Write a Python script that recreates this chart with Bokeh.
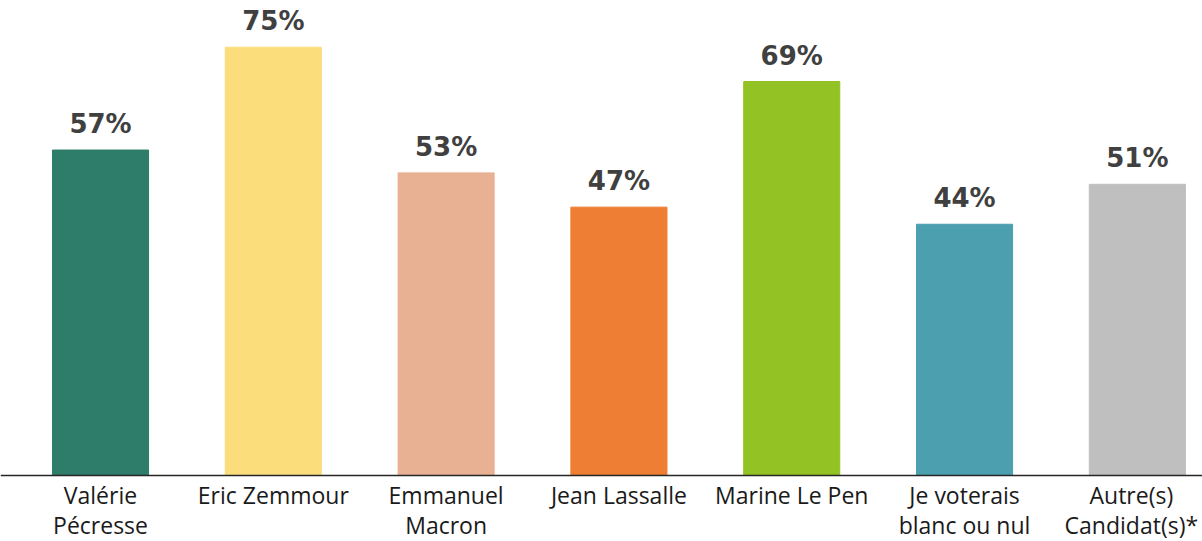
from bokeh.plotting import figure
from bokeh.models import ColumnDataSource, Range1d, Span
from bokeh.core.properties import value
from bokeh.embed import file_html
from bokeh.resources import INLINE

categories = ["Valérie\nPécresse", "Eric Zemmour", "Emmanuel\nMacron", "Jean Lassalle",
              "Marine Le Pen", "Je voterais\nblanc ou nul", "Autre(s)\nCandidat(s)*"]
values = [57, 75, 53, 47, 69, 44, 51]
colors = ["#2E7C6A", "#FCDD7C", "#E8B193", "#ED7E33", "#93C224", "#4B9FAE", "#BFBFBF"]

idx = list(range(len(categories)))
labels = [f"{v}%" for v in values]
src = ColumnDataSource(dict(x=idx, top=values, color=colors, label=labels))

W, H = 1202, 541
p = figure(width=W, height=H, output_backend="svg", toolbar_location=None,
           x_range=Range1d(-0.5787, 6.377), y_range=Range1d(-11.56, 83.19),
           min_border_left=0, min_border_right=0, min_border_top=0, min_border_bottom=0)
p.outline_line_color = None
p.grid.visible = False
p.xaxis.visible = False
p.yaxis.visible = False

p.vbar(x="x", top="top", width=0.556, color="color", source=src)
p.add_layout(Span(location=0, dimension="width", line_color="#262626", line_width=1.5))

p.text(x="x", y="top", text="label", source=src, text_align="center",
       text_baseline="alphabetic", y_offset=-26, text_font=value("DejaVu Sans"),
       text_font_style="bold", text_font_size="26px", text_color="#404040")

cat_style = dict(text_align="center", text_baseline="top", y_offset=4,
                 text_font=value("Open Sans"), text_font_size="23px",
                 text_color="#1a1a1a", text_line_height=0.93)
# categories, the last one nudged left so that it stays inside the chart
p.text(x=idx[:-1], y=[0] * (len(idx) - 1), text=categories[:-1], **cat_style)
p.text(x=idx[-1:], y=[0], text=categories[-1:], x_offset=-6, **cat_style)

open("out.html", "w").write(file_html(p, INLINE))
